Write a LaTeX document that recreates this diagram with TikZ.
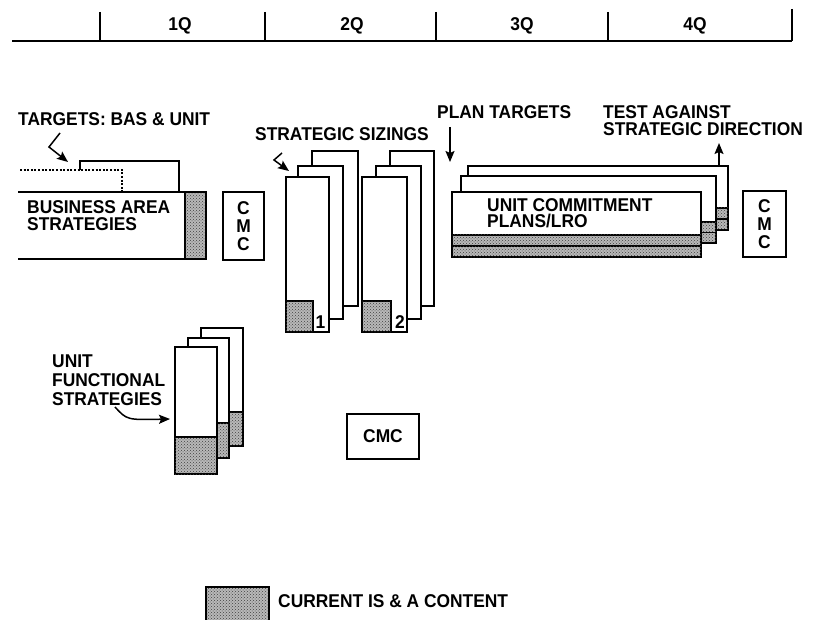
\documentclass[tikz,border=0pt]{standalone}
\usepackage{fontspec}
\setmainfont{Liberation Sans}[FakeStretch=0.94]
\usetikzlibrary{arrows.meta,patterns}
\newcommand\lbl{\fontsize{18.5}{17}\selectfont\bfseries}
\tikzset{
  base/.style={line width=1.8pt},
  box/.style={draw, base, fill=white, inner sep=0pt, outer sep=0pt, anchor=north west},
  stip/.style={draw, base, fill=black!28, postaction={pattern=crosshatch dots, pattern color=black!75}, inner sep=0pt, outer sep=0pt},
  txt/.style={font=\lbl, inner sep=0pt, anchor=base west, align=left},
  arr/.style={line width=1.5pt, -{Stealth[length=11pt,width=9pt,inset=2pt]}},
  dotline/.style={line width=1.8pt, dash pattern=on 2pt off 1.6pt}
}
\begin{document}
\begin{tikzpicture}[x=1pt,y=-1pt]
\useasboundingbox (0,0) rectangle (829,620);

% timeline
\draw[base] (12,41) -- (792,41);
\foreach \t in {100,265,436,608}{\draw[base] (\t,12) -- (\t,41);}
\draw[base] (792,9) -- (792,41);
\node[font=\lbl, inner sep=0pt, anchor=base] (q1) at (180,31) {1Q};
\node[font=\lbl, inner sep=0pt, anchor=base] (q2) at (352,31) {2Q};
\node[font=\lbl, inner sep=0pt, anchor=base] (q3) at (522,31) {3Q};
\node[font=\lbl, inner sep=0pt, anchor=base] (q4) at (695,31) {4Q};

% targets
\node[txt] (tgt) at (18,126) {TARGETS: BAS \& UNIT};
\coordinate (ta1) at (60,133);
\coordinate (ta2) at (68,162);
\draw[arr] (ta1) -- (49,147) -- (ta2);
\coordinate (tb1) at (80,170);
\coordinate (tb2) at (179,192);
\draw[base] (tb1) -- (80,161) -- (179,161) -- (tb2);
\coordinate (td1) at (20,170);
\coordinate (td2) at (122,192);
\draw[dotline] (td1) -- (122,170) -- (td2);

% business area strategies
\node[inner sep=0pt, outer sep=0pt, anchor=north west, minimum width=188pt, minimum height=67pt] (bas) at (18,192) {};
\node[stip, anchor=north east, minimum width=21pt, minimum height=67pt] (bass) at (bas.north east) {};
\draw[base] (bas.north west) -- (bas.north east) -- (bas.south east) -- (bas.south west);
\node[txt] (bast) at (27,230) {BUSINESS AREA\\STRATEGIES};

% CMC 1
\node[box, minimum width=41pt, minimum height=68pt, align=center, font=\lbl] (cmc1) at (223,192) {C\\[1pt]M\\[1pt]C};

% strategic sizings
\node[txt] (sst) at (255,141) {STRATEGIC SIZINGS};
\coordinate (sa1) at (282,153);
\coordinate (sa2) at (289,171);
\draw[arr] (sa1) -- (274,160) -- (sa2);

\node[box, minimum width=46pt, minimum height=155pt] (s1c) at (312,151) {};
\node[box, minimum width=45pt, minimum height=153pt] (s1b) at (298,166) {};
\node[box, minimum width=43pt, minimum height=155pt] (s1a) at (286,177) {};
\node[stip, anchor=south west, minimum width=27pt, minimum height=31pt] (s1s) at (s1a.south west) {};
\node[font=\lbl, inner sep=0pt, anchor=base] (s1n) at (320.5,328) {1};

\node[box, minimum width=44pt, minimum height=155pt] (s2c) at (390,151) {};
\node[box, minimum width=45pt, minimum height=153pt] (s2b) at (376,166) {};
\node[box, minimum width=45pt, minimum height=155pt] (s2a) at (362,177) {};
\node[stip, anchor=south west, minimum width=29pt, minimum height=31pt] (s2s) at (s2a.south west) {};
\node[font=\lbl, inner sep=0pt, anchor=base] (s2n) at (400,328) {2};

% plan targets
\node[txt] (ptt) at (437,119) {PLAN TARGETS};
\coordinate (pa1) at (450,127);
\coordinate (pa2) at (450,162);
\draw[arr] (pa1) -- (pa2);

% test against
\node[txt] (tst) at (603,136) {TEST AGAINST\\STRATEGIC DIRECTION};
\coordinate (xa1) at (719,165);
\coordinate (xa2) at (719,143);
\draw[arr] (xa1) -- (xa2);

% unit commitment plans stack
\node[box, minimum width=260pt, minimum height=64pt] (u3) at (468,166) {};
\node[stip, anchor=south west, minimum width=260pt, minimum height=11pt] (u3s2) at (u3.south west) {};
\node[stip, anchor=south west, minimum width=260pt, minimum height=11pt] (u3s1) at (u3s2.north west) {};
\node[box, minimum width=255pt, minimum height=67pt] (u2) at (461,176) {};
\node[stip, anchor=south west, minimum width=255pt, minimum height=10.5pt] (u2s2) at (u2.south west) {};
\node[stip, anchor=south west, minimum width=255pt, minimum height=10.5pt] (u2s1) at (u2s2.north west) {};
\node[box, minimum width=249pt, minimum height=65pt] (u1) at (452,192) {};
\node[stip, anchor=south west, minimum width=249pt, minimum height=11pt] (u1s2) at (u1.south west) {};
\node[stip, anchor=south west, minimum width=249pt, minimum height=11pt] (u1s1) at (u1s2.north west) {};
\node[txt] (u1t) at (487,228) {UNIT COMMITMENT\\PLANS/LRO};

% CMC 2
\node[box, minimum width=43pt, minimum height=66pt, align=center, font=\lbl] (cmc2) at (743,191) {C\\[1pt]M\\[1pt]C};

% unit functional strategies
\node[txt] (uft) at (52,405) {UNIT\\[2pt]FUNCTIONAL\\[2pt]STRATEGIES};
\coordinate (fa1) at (115,407);
\coordinate (fa2) at (170,419);
\draw[arr] (fa1) .. controls (127,420) .. (fa2);

\node[box, minimum width=42pt, minimum height=118pt] (f3) at (201,328) {};
\node[stip, anchor=south west, minimum width=42pt, minimum height=34pt] (f3s) at (f3.south west) {};
\node[box, minimum width=41pt, minimum height=120pt] (f2) at (188,338) {};
\node[stip, anchor=south west, minimum width=41pt, minimum height=35pt] (f2s) at (f2.south west) {};
\node[box, minimum width=42pt, minimum height=127pt] (f1) at (175,347) {};
\node[stip, anchor=south west, minimum width=42pt, minimum height=37pt] (f1s) at (f1.south west) {};

% CMC 3
\node[box, minimum width=72pt, minimum height=45pt, font=\lbl] (cmc3) at (347,414) {CMC};

% legend
\node[stip, draw=none, anchor=north west, minimum width=63pt, minimum height=33pt] (leg) at (206,587) {};
\draw[base] (leg.south west) -- (leg.north west) -- (leg.north east) -- (leg.south east);
\node[txt] (legt) at (278,607) {CURRENT IS \& A CONTENT};
\end{tikzpicture}
\end{document}
